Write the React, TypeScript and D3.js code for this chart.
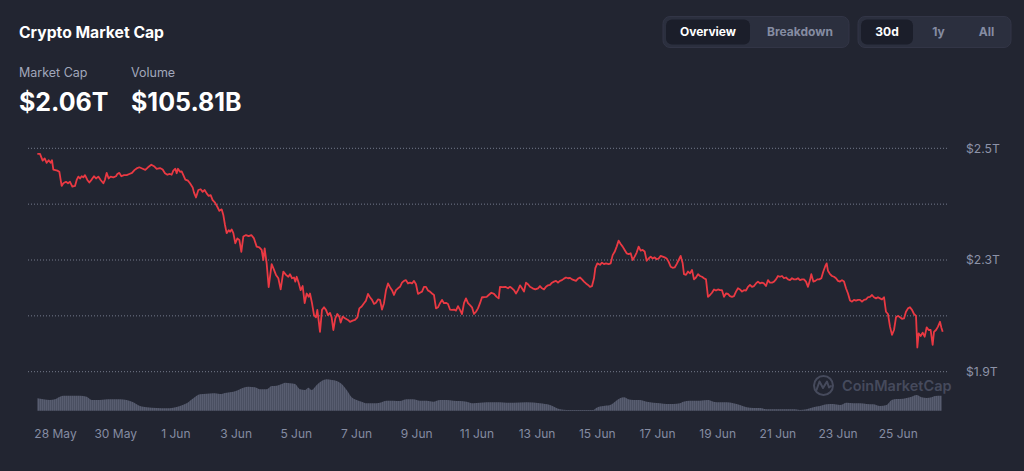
import React from "react";
import * as d3 from "d3";

// market cap in $T, keyed by days since the first sample (27 May 2024, 09:15 UTC)
const marketCap: [number, number][] = [
  [0.011, 2.485], [0.1, 2.485], [0.188, 2.467], [0.255, 2.473], [0.321, 2.461], [0.388, 2.468], [0.454, 2.461], [0.498, 2.468], [0.543, 2.443], [0.676, 2.44],
  [0.742, 2.437], [0.819, 2.399], [0.875, 2.406], [0.963, 2.41], [1.03, 2.406], [1.096, 2.41], [1.174, 2.397], [1.262, 2.399], [1.318, 2.415], [1.373, 2.424],
  [1.429, 2.419], [1.484, 2.425], [1.539, 2.422], [1.595, 2.428], [1.672, 2.415], [1.739, 2.408], [1.816, 2.416], [1.894, 2.425], [1.96, 2.419], [2.038, 2.424],
  [2.115, 2.415], [2.204, 2.406], [2.259, 2.416], [2.314, 2.434], [2.381, 2.419], [2.447, 2.424], [2.536, 2.422], [2.625, 2.425], [2.669, 2.431], [2.735, 2.434],
  [2.802, 2.425], [2.89, 2.428], [2.979, 2.428], [3.068, 2.431], [3.156, 2.434], [3.245, 2.442], [3.311, 2.446], [3.4, 2.449], [3.511, 2.445], [3.599, 2.442],
  [3.688, 2.449], [3.798, 2.456], [3.887, 2.452], [3.976, 2.445], [4.086, 2.447], [4.175, 2.443], [4.252, 2.433], [4.33, 2.429], [4.419, 2.431], [4.474, 2.429],
  [4.529, 2.44], [4.596, 2.445], [4.64, 2.433], [4.684, 2.445], [4.751, 2.437], [4.806, 2.438], [4.862, 2.428], [4.928, 2.416], [5.017, 2.413], [5.083, 2.406],
  [5.172, 2.395], [5.216, 2.381], [5.282, 2.368], [5.36, 2.388], [5.437, 2.39], [5.504, 2.383], [5.57, 2.388], [5.637, 2.379], [5.703, 2.372], [5.77, 2.374],
  [5.836, 2.361], [5.914, 2.354], [5.991, 2.343], [6.058, 2.332], [6.135, 2.336], [6.19, 2.321], [6.246, 2.294], [6.301, 2.272], [6.368, 2.28], [6.412, 2.276],
  [6.467, 2.282], [6.523, 2.272], [6.589, 2.245], [6.656, 2.258], [6.722, 2.254], [6.788, 2.222], [6.855, 2.263], [6.944, 2.267], [7.032, 2.264], [7.121, 2.267],
  [7.209, 2.258], [7.298, 2.236], [7.386, 2.234],
  [7.464, 2.227], [7.519, 2.2], [7.564, 2.231], [7.63, 2.191], [7.697, 2.127], [7.796, 2.189], [7.852, 2.178], [7.94, 2.16], [8.018, 2.151], [8.095, 2.121],
  [8.184, 2.169], [8.272, 2.16], [8.35, 2.155], [8.405, 2.162], [8.472, 2.151], [8.538, 2.153], [8.583, 2.142], [8.627, 2.155], [8.693, 2.139], [8.76, 2.119],
  [8.826, 2.13], [8.893, 2.084], [8.959, 2.11], [9.025, 2.101], [9.07, 2.11], [9.136, 2.084], [9.203, 2.052], [9.269, 2.046], [9.313, 2.066], [9.358, 2.037],
  [9.402, 2.007], [9.468, 2.066], [9.535, 2.073], [9.601, 2.066], [9.668, 2.052], [9.734, 2.058], [9.789, 2.046], [9.845, 2.012], [9.911, 2.043], [9.978, 2.055],
  [10.044, 2.048], [10.089, 2.032], [10.155, 2.048], [10.244, 2.043], [10.332, 2.039], [10.399, 2.034], [10.487, 2.037], [10.565, 2.039], [10.643, 2.046], [10.709, 2.07],
  [10.786, 2.075], [10.864, 2.084], [10.93, 2.091], [10.997, 2.109], [11.063, 2.1], [11.13, 2.093], [11.196, 2.082], [11.262, 2.085], [11.329, 2.094], [11.395, 2.093],
  [11.462, 2.067], [11.528, 2.084], [11.595, 2.119], [11.661, 2.137], [11.728, 2.127], [11.794, 2.119], [11.86, 2.106], [11.927, 2.119], [11.993, 2.124], [12.06, 2.128],
  [12.126, 2.139], [12.193, 2.144], [12.259, 2.146], [12.326, 2.137], [12.392, 2.139], [12.459, 2.137], [12.525, 2.144], [12.591, 2.135], [12.658, 2.109], [12.724, 2.112],
  [12.791, 2.115], [12.857, 2.128], [12.924, 2.128], [12.99, 2.118], [13.056, 2.115], [13.123, 2.11], [13.189, 2.106], [13.256, 2.07], [13.322, 2.073], [13.389, 2.084],
  [13.455, 2.093], [13.522, 2.084], [13.588, 2.085], [13.654, 2.082], [13.721, 2.067], [13.787, 2.066], [13.854, 2.067], [13.92, 2.064], [13.987, 2.076], [14.053, 2.066],
  [14.12, 2.055], [14.186, 2.084], [14.252, 2.097], [14.319, 2.084], [14.385, 2.079], [14.452, 2.073], [14.518, 2.055], [14.585, 2.061], [14.651, 2.07], [14.718, 2.084],
  [14.784, 2.1], [14.85, 2.1], [14.939, 2.101], [15.006, 2.106], [15.094, 2.112], [15.183, 2.109], [15.271, 2.101], [15.338, 2.097],
  [15.382, 2.128], [15.471, 2.127], [15.559, 2.128], [15.648, 2.124], [15.714, 2.128], [15.781, 2.124], [15.847, 2.119], [15.914, 2.11], [15.98, 2.119], [16.047, 2.132],
  [16.113, 2.124], [16.179, 2.115], [16.246, 2.139], [16.312, 2.135], [16.379, 2.128], [16.467, 2.124], [16.556, 2.121], [16.645, 2.124], [16.711, 2.13], [16.777, 2.124],
  [16.844, 2.121], [16.91, 2.128], [16.977, 2.132], [17.043, 2.133], [17.11, 2.139], [17.176, 2.142], [17.243, 2.144], [17.309, 2.139], [17.375, 2.144], [17.442, 2.146],
  [17.508, 2.15], [17.575, 2.153], [17.641, 2.151], [17.708, 2.152], [17.774, 2.148], [17.841, 2.146], [17.907, 2.144], [17.973, 2.15], [18.04, 2.153], [18.106, 2.148],
  [18.173, 2.142], [18.239, 2.137], [18.306, 2.133], [18.372, 2.128], [18.439, 2.13], [18.505, 2.151], [18.549, 2.178], [18.616, 2.191], [18.704, 2.187], [18.771, 2.193],
  [18.837, 2.189], [18.904, 2.191], [18.992, 2.189], [19.059, 2.191], [19.125, 2.213], [19.192, 2.222], [19.258, 2.236], [19.324, 2.252], [19.391, 2.243], [19.457, 2.236],
  [19.524, 2.227], [19.59, 2.218], [19.657, 2.216], [19.723, 2.218], [19.79, 2.2], [19.856, 2.209], [19.922, 2.22], [19.989, 2.236], [20.055, 2.225], [20.122, 2.227],
  [20.188, 2.223], [20.255, 2.198], [20.321, 2.204], [20.388, 2.209], [20.454, 2.204], [20.52, 2.207], [20.587, 2.202], [20.653, 2.204], [20.72, 2.211], [20.786, 2.209],
  [20.853, 2.207], [20.919, 2.204], [20.986, 2.195], [21.052, 2.182], [21.118, 2.179], [21.185, 2.18], [21.251, 2.189], [21.318, 2.2], [21.384, 2.211], [21.451, 2.191],
  [21.495, 2.162], [21.561, 2.16], [21.628, 2.169], [21.694, 2.164], [21.761, 2.173], [21.827, 2.148], [21.894, 2.153], [21.96, 2.162], [22.027, 2.157], [22.093, 2.155],
  [22.159, 2.151], [22.226, 2.148], [22.292, 2.101], [22.359, 2.106], [22.425, 2.112], [22.492, 2.121], [22.558, 2.118], [22.625, 2.121], [22.691, 2.119], [22.757, 2.119],
  [22.824, 2.101], [22.89, 2.11], [22.957, 2.109], [23.023, 2.103], [23.09, 2.101], [23.156, 2.103], [23.223, 2.115], [23.289, 2.124], [23.355, 2.121], [23.422, 2.115],
  [23.488, 2.119], [23.555, 2.118], [23.621, 2.128], [23.688, 2.133], [23.754, 2.128], [23.821, 2.13], [23.887, 2.137], [23.953, 2.142], [24.02, 2.137], [24.086, 2.139],
  [24.153, 2.137], [24.219, 2.13], [24.286, 2.146], [24.352, 2.139], [24.419, 2.139], [24.485, 2.142], [24.551, 2.148], [24.618, 2.157], [24.684, 2.155], [24.751, 2.157],
  [24.817, 2.151], [24.884, 2.153], [24.95, 2.148], [25.017, 2.146], [25.083, 2.151], [25.15, 2.148], [25.216, 2.148], [25.282, 2.151], [25.349, 2.146], [25.415, 2.148],
  [25.482, 2.148], [25.548, 2.142], [25.615, 2.128], [25.681, 2.146], [25.725, 2.162], [25.792, 2.142], [25.858, 2.144], [25.925, 2.148], [25.991, 2.148], [26.058, 2.151],
  [26.124, 2.169], [26.191, 2.184], [26.235, 2.191], [26.279, 2.171], [26.346, 2.162], [26.412, 2.157], [26.478, 2.155], [26.545, 2.151], [26.611, 2.144], [26.678, 2.142],
  [26.744, 2.146], [26.811, 2.142], [26.877, 2.124], [26.944, 2.11], [27.01, 2.091], [27.076, 2.088], [27.143, 2.093], [27.209, 2.091], [27.276, 2.093], [27.342, 2.093],
  [27.409, 2.088], [27.475, 2.093], [27.542, 2.094], [27.608, 2.1], [27.674, 2.101], [27.741, 2.106], [27.807, 2.1], [27.874, 2.097], [27.94, 2.1], [28.007, 2.097],
  [28.073, 2.094], [28.14, 2.1], [28.206, 2.061], [28.272, 2.055], [28.339, 2.021], [28.405, 1.999], [28.472, 2.012], [28.538, 2.046], [28.605, 2.05], [28.671, 2.046],
  [28.738, 2.042], [28.804, 2.043], [28.87, 2.061], [28.937, 2.07], [29.003, 2.073], [29.07, 2.066], [29.136, 2.055], [29.203, 2.05], [29.247, 1.965], [29.291, 2.003],
  [29.358, 1.996], [29.424, 2.005], [29.491, 1.994], [29.557, 2.019], [29.623, 2.012], [29.69, 2.012], [29.756, 1.972], [29.801, 2.007], [29.867, 2.012], [29.934, 2.021],
  [30.0, 2.034], [30.044, 2.019], [30.089, 2.007],
];

// volume in $B, same day offsets
const volume: [number, number][] = [
  [0.011, 86.5], [0.21, 82.8], [0.432, 80.1], [0.598, 82.8], [0.764, 92.5], [0.875, 96.3], [1.096, 96.3], [1.429, 96.3], [1.65, 92.5], [1.816, 80.1],
  [2.093, 80.1], [2.425, 82.8], [2.757, 82.8], [2.979, 80.1], [3.2, 71.5], [3.422, 57.6], [3.643, 52.8], [3.976, 50.1], [4.308, 49.0], [4.529, 51.3],
  [4.751, 57.6], [4.972, 67.8], [5.194, 86.5], [5.415, 101.5], [5.637, 103.8], [5.858, 105.3], [6.08, 102.6], [6.301, 107.5], [6.523, 111.3], [6.689, 117.6],
  [6.855, 126.3], [7.021, 130.0], [7.243, 127.8], [7.409, 120.3], [7.63, 120.3], [7.796, 132.6], [7.962, 133.8], [8.128, 140.1], [8.239, 145.0], [8.405, 142.8],
  [8.571, 140.1], [8.738, 120.3], [8.904, 117.6], [9.014, 126.3], [9.125, 117.6], [9.291, 136.4], [9.457, 151.4], [9.623, 157.8], [9.79, 155.1], [9.956, 151.4],
  [10.122, 140.1], [10.288, 117.6], [10.454, 90.3], [10.62, 80.1], [10.786, 73.8], [10.952, 67.8], [11.174, 67.8], [11.395, 70.0], [11.617, 77.5], [11.838, 77.5],
  [12.06, 76.4], [12.281, 82.8], [12.503, 82.8], [12.724, 77.5], [12.946, 77.5], [13.167, 73.8], [13.389, 80.1], [13.61, 80.1], [13.832, 77.5], [14.053, 76.4],
  [14.275, 73.8], [14.496, 67.8], [14.718, 70.0], [14.939, 71.5], [15.161, 71.5], [15.382, 71.5], [15.604, 70.0], [15.825, 70.0], [16.268, 71.5], [16.711, 67.8],
  [17.043, 61.4], [17.375, 45.3], [17.597, 42.6], [18.04, 42.6], [18.483, 42.6], [18.594, 51.3], [18.815, 57.6], [19.037, 61.4], [19.203, 73.8], [19.369, 86.5],
  [19.502, 90.3], [19.646, 82.8], [19.812, 80.1], [20.033, 80.1], [20.255, 73.8], [20.476, 70.0], [20.698, 67.8], [20.919, 65.1], [21.141, 65.1], [21.362, 67.8],
  [21.473, 73.8], [21.694, 77.5], [22.027, 77.5], [22.304, 80.1], [22.47, 73.8], [22.691, 71.5], [22.913, 71.5], [23.134, 67.8], [23.355, 61.4], [23.577, 52.8],
  [23.798, 50.1], [24.02, 50.1], [24.241, 45.3], [24.463, 45.3], [24.795, 45.3], [25.127, 45.3], [25.349, 42.6], [25.57, 45.3], [25.792, 52.8], [26.013, 57.6],
  [26.235, 64.0], [26.456, 65.1], [26.678, 61.4], [26.899, 70.0], [27.121, 67.8], [27.342, 67.8], [27.564, 65.1], [27.785, 64.0], [28.007, 57.6], [28.228, 61.4],
  [28.394, 80.1], [28.56, 83.9], [28.782, 85.0], [29.003, 90.3], [29.225, 98.9], [29.391, 90.3], [29.557, 87.6], [29.723, 90.3], [29.834, 95.1], [30.055, 96.3],
];

const xTickDates = ["2024-05-28", "2024-05-30", "2024-06-01", "2024-06-03", "2024-06-05", "2024-06-07", "2024-06-09", "2024-06-11",
  "2024-06-13", "2024-06-15", "2024-06-17", "2024-06-19", "2024-06-21", "2024-06-23", "2024-06-25"];
const yTicks = [2.5, 2.35, 2.2, 2.05, 1.9];
const yTickLabels = ["$2.5T", "", "$2.3T", "", "$1.9T"];

const headerStats = [
  { label: "Market Cap", value: "$2.06T" },
  { label: "Volume", value: "$105.81B" },
];
const viewTabs = ["Overview", "Breakdown"];
const rangeTabs = ["30d", "1y", "All"];

const DAY = 86400000;
const START = Date.UTC(2024, 4, 27, 9, 15);
const FONT = "Inter, 'Noto Sans', sans-serif";

export default function App() {
  const width = 1024, height = 471;

  const x = d3.scaleUtc()
    .domain([new Date(START), new Date(START + 30.1 * DAY)])
    .range([37, 943]);
  const y = d3.scaleLinear().domain([1.9, 2.5]).range([371.7, 148.3]);
  const yVol = d3.scaleLinear().domain([40, 160]).range([410.7, 378.7]);

  const toDate = (d: number) => new Date(START + d * DAY);

  const line = d3.line<[number, number]>()
    .x(d => x(toDate(d[0])))
    .y(d => y(d[1]));

  const volArea = d3.area<[number, number]>()
    .x(d => x(toDate(d[0])))
    .y0(yVol(40))
    .y1(d => yVol(d[1]))
    .curve(d3.curveMonotoneX);

  const parse = d3.utcParse("%Y-%m-%d");
  const fmt = d3.utcFormat("%-d %b");

  return (
    <div style={{ position: "fixed", left: 0, top: 0, width, height, background: "#222531" }}>
      <svg width={width} height={height} style={{ display: "block", fontFamily: FONT }}>
        <defs>
          <pattern id="volStripes" width="2" height="10" patternUnits="userSpaceOnUse">
            <rect width="2" height="10" fill="#414556" />
            <rect width="1.4" height="10" fill="#585d70" />
          </pattern>
        </defs>
        <rect width={width} height={height} fill="#222531" />

        {/* header */}
        <text x={19} y={38} fill="#ffffff" fontSize={15.7} fontWeight={700}>Crypto Market Cap</text>
        {headerStats.map((s, i) => (
          <g key={s.label} transform={`translate(${19 + i * 112},0)`}>
            <text y={77} fill="#a1a7bb" fontSize={12.5}>{s.label}</text>
            <text y={111} fill="#ffffff" fontSize={25} fontWeight={700}>{s.value}</text>
          </g>
        ))}

        {/* tab groups */}
        <g>
          <rect x={663} y={16.5} width={186} height={31} rx={7} fill="#2b2f3e" stroke="#323546" />
          {viewTabs.map((t, i) => (
            <g key={t}>
              {i === 0 && <rect x={666} y={19.5} width={84} height={25} rx={6} fill="#1b1e2a" />}
              <text x={i === 0 ? 708 : 800} y={36} textAnchor="middle" fontSize={12} fontWeight={700}
                fill={i === 0 ? "#ffffff" : "#858ca2"}>{t}</text>
            </g>
          ))}
          <rect x={858} y={16.5} width={153} height={31} rx={7} fill="#2b2f3e" stroke="#323546" />
          {rangeTabs.map((t, i) => (
            <g key={t}>
              {i === 0 && <rect x={861} y={19.5} width={52} height={25} rx={6} fill="#1b1e2a" />}
              <text x={[887, 938.5, 986.5][i]} y={36} textAnchor="middle" fontSize={12} fontWeight={700}
                fill={i === 0 ? "#ffffff" : "#858ca2"}>{t}</text>
            </g>
          ))}
        </g>

        {/* grid + y labels */}
        {yTicks.map((t, i) => (
          <g key={t}>
            <line x1={28} x2={949} y1={y(t)} y2={y(t)} stroke="#8a90a3" strokeWidth={1} strokeDasharray="1 2" opacity={0.8} />
            {yTickLabels[i] && (
              <text x={966} y={y(t)} dy="0.35em" fill="#8d93a8" fontSize={12.2}>{yTickLabels[i]}</text>
            )}
          </g>
        ))}

        {/* watermark */}
        <g opacity={0.9}>
          <circle cx={823.5} cy={385.5} r={9.5} fill="none" stroke="#4a4f61" strokeWidth={2} />
          <path d="M816.5,390 L819.5,381.5 L823,388 L827,381.5 L829,387.5 L831,386" fill="none" stroke="#4a4f61" strokeWidth={2} strokeLinejoin="round" strokeLinecap="round" />
          <text x={842} y={390.5} fill="#4a4f61" fontSize={14.5} fontWeight={600}>CoinMarketCap</text>
        </g>

        {/* volume */}
        <path d={volArea(volume) || ""} fill="url(#volStripes)" />

        {/* market cap line */}
        <path d={line(marketCap) || ""} fill="none" stroke="#ea3943" strokeWidth={1.8} strokeLinejoin="round" />

        {/* x labels */}
        {xTickDates.map(s => {
          const dt = parse(s) as Date;
          return (
            <text key={s} x={x(dt)} y={438} textAnchor="middle" fill="#858ca2" fontSize={12}>{fmt(dt)}</text>
          );
        })}
      </svg>
    </div>
  );
}
